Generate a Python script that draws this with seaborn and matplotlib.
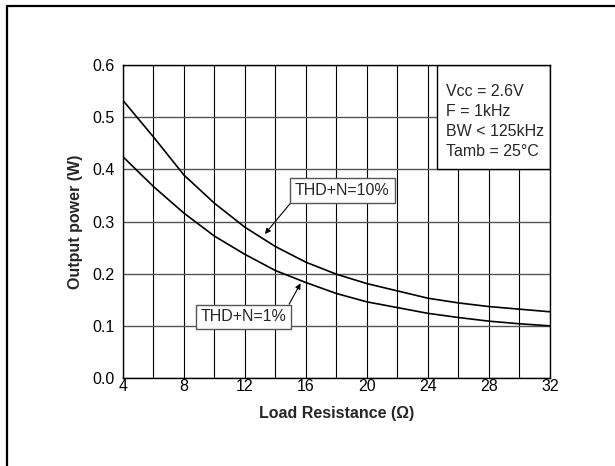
import numpy as np
import pandas as pd
import matplotlib
matplotlib.use("Agg")
import matplotlib.pyplot as plt
from matplotlib.lines import Line2D
from matplotlib.patches import Rectangle
import seaborn as sns

# Values
load_ohm = [4, 6, 8, 10, 12, 14, 16, 18, 20, 22, 24, 26, 28, 30, 32]
power_thd10 = [0.532, 0.462, 0.389, 0.335, 0.289, 0.252, 0.222, 0.199, 0.181,
               0.167, 0.153, 0.144, 0.137, 0.132, 0.127]
power_thd1 = [0.424, 0.367, 0.316, 0.272, 0.237, 0.206, 0.183, 0.162, 0.146,
              0.135, 0.124, 0.116, 0.109, 0.104, 0.100]
x_ticks = [4, 8, 12, 16, 20, 24, 28, 32]
y_ticks = [0.0, 0.1, 0.2, 0.3, 0.4, 0.5, 0.6]
conditions = "Vcc = 2.6V\nF = 1kHz\nBW < 125kHz\nTamb = 25°C"


def main():
    sns.set_theme(style="white")
    plt.rcParams['font.family'] = ['Liberation Sans', 'DejaVu Sans']

    data = pd.DataFrame({
        'R': load_ohm * 2,
        'P': power_thd10 + power_thd1,
        'curve': ['THD+N=10%'] * len(load_ohm) + ['THD+N=1%'] * len(load_ohm),
    })

    fig = plt.figure(figsize=(6.15, 4.66), dpi=100)
    ax = fig.add_axes([0.2, 0.1888, 0.694, 0.6717])

    # grid: vertical every 2 ohm, horizontal every 0.1 W
    for x in range(4, 33, 2):
        ax.axvline(x, color='black', lw=0.8, zorder=1)
    for y in y_ticks:
        ax.axhline(y, color='#555555', lw=1.0, zorder=1)

    sns.lineplot(data=data, x='R', y='P', hue='curve', palette=['black', 'black'],
                 lw=1.2, legend=False, ax=ax, zorder=4)

    ax.set_xlim(4, 32)
    ax.set_ylim(0, 0.6)
    ax.set_xticks(x_ticks)
    ax.set_yticks(y_ticks)
    ax.set_yticklabels([f"{v:.1f}" for v in y_ticks])
    ax.tick_params(axis='both', labelsize=11.5, length=0, colors='black')
    ax.tick_params(axis='x', pad=1)
    ax.tick_params(axis='y', pad=6)
    ax.set_xlabel("Load Resistance (Ω)", fontsize=11.5, fontweight='bold', labelpad=8)
    ax.set_ylabel("Output power (W)", fontsize=11.5, fontweight='bold', labelpad=7)
    for s in ax.spines.values():
        s.set_color('black')
        s.set_linewidth(1.0)
        s.set_zorder(6)

    # conditions box in the upper right corner
    ax.add_patch(Rectangle((24.57, 0.4), 32 - 24.57, 0.2, facecolor='white',
                           edgecolor='black', lw=1.0, zorder=5))
    ax.text(25.2, 0.563, conditions, fontsize=11.5, va='top', ha='left',
            linespacing=1.4, zorder=6)

    box = dict(boxstyle='square,pad=0.3', facecolor='white', edgecolor='#555555', lw=1.0)
    ax.annotate("THD+N=10%", xy=(13.31, 0.276), xytext=(18.39, 0.360),
                fontsize=11.5, ha='center', va='center', bbox=box, zorder=7,
                arrowprops=dict(arrowstyle='-|>', color='black', lw=0.8,
                                mutation_scale=8, shrinkA=0, shrinkB=0,
                                relpos=(0, 0)))
    ax.annotate("THD+N=1%", xy=(15.65, 0.1815), xytext=(11.89, 0.117),
                fontsize=11.5, ha='center', va='center', bbox=box, zorder=7,
                arrowprops=dict(arrowstyle='-|>', color='black', lw=0.8,
                                mutation_scale=8, shrinkA=0, shrinkB=0,
                                relpos=(1, 1)))

    # outer frame (only top and left edges visible in the reference)
    fig.add_artist(Line2D([0.0114, 1.0], [0.987, 0.987], transform=fig.transFigure,
                          color='black', lw=1.6))
    fig.add_artist(Line2D([0.0114, 0.0114], [0.0, 0.987], transform=fig.transFigure,
                          color='black', lw=1.6))

    fig.savefig("out.png", dpi=100)


if __name__ == '__main__':
    main()
